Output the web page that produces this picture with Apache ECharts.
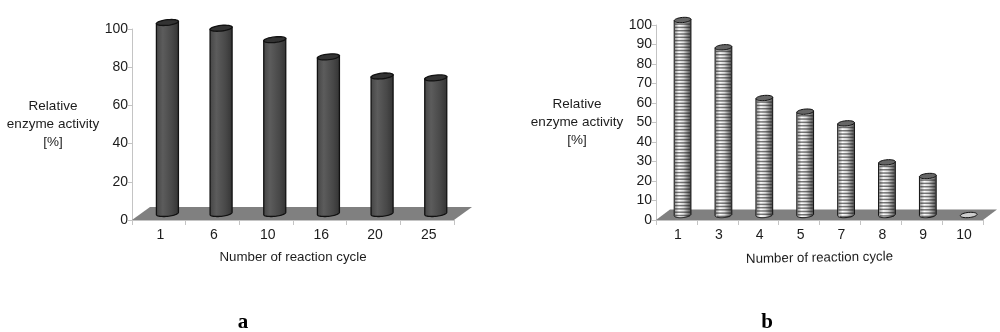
<!DOCTYPE html>
<html><head><meta charset="utf-8">
<style>html,body{margin:0;padding:0;background:#fff}#c{width:1000px;height:332px;filter:blur(0.4px)}</style>
<script src="https://cdn.jsdelivr.net/npm/echarts@6/dist/echarts.min.js"></script>
</head><body><div id="c"></div>
<script>
const categoriesA = ['1','6','10','16','20','25'];
const valuesA = [100, 97, 91, 82, 72, 71];
const categoriesB = ['1','3','4','5','7','8','9','10'];
const valuesB = [100, 86, 60, 53, 47, 27, 20, 0];
const yIntervalA = 20;
const yIntervalB = 10;
const xTitle = 'Number of reaction cycle';
const yTitle = 'Relative\nenzyme activity\n[%]';

const FONT = '"Liberation Sans", Arial, sans-serif';
const chart = echarts.init(document.getElementById('c'), null, {renderer:'canvas'});

function ellipsePts(cx, cy, rx, ry, tilt, a0, a1, n){
  const p=[];
  for(let i=0;i<=n;i++){
    const t=a0+(a1-a0)*i/n;
    p.push([cx+rx*Math.cos(t), cy+ry*Math.sin(t)-tilt*Math.cos(t)]);
  }
  return p;
}
function floorSeries(ax, depthX, depthY){
  return {type:'custom',xAxisIndex:ax,yAxisIndex:ax,z:1,silent:true,clip:false,
    data:[[0,0]],
    renderItem(params){
      const s=params.coordSys, b=s.y+s.height, r=s.x+s.width;
      return {type:'polygon',shape:{points:[[s.x,b],[r,b],[r+depthX,b-depthY],[s.x+depthX,b-depthY]]},style:{fill:'#808080'}};
    }};
}
function cylSeries(ax, values, o){
  return {type:'custom',xAxisIndex:ax,yAxisIndex:ax,z:3,silent:true,clip:false,
    data:values.map((v,i)=>[i,v]),
    renderItem(params,api){
      const p=api.coord([api.value(0),api.value(1)]);
      const base=api.coord([api.value(0),0]);
      const band=api.size([1,0])[0];
      const cx=p[0]+band*o.dx, rx=band*o.w/2;
      const topY=p[1]-o.dy, botY=base[1]-o.dy;
      const kids=[];
      if(botY-topY>1){
        const pts=[[cx-rx,topY+o.tilt],[cx+rx,topY-o.tilt]].concat(
          ellipsePts(cx,botY,rx,o.ry,o.tilt,0,Math.PI,24));
        kids.push({type:'polygon',shape:{points:pts},
          style:{fill:{type:'linear',x:0,y:0,x2:1,y2:0,colorStops:o.body},stroke:'#111',lineWidth:o.lw}});
        if(o.stripe){
          for(let y=topY+o.ry+1.5;y<botY+o.ry-0.4;y+=o.stripe){
            const k=y>botY?Math.sqrt(Math.max(0,1-Math.pow((y-botY)/o.ry,2))):1;
            const hw=(rx-0.8)*k;
            kids.push({type:'line',shape:{x1:cx-hw,y1:y,x2:cx+hw,y2:y},
              style:{stroke:'rgba(30,30,30,0.6)',lineWidth:1.5}});
          }
        }
      }
      kids.push({type:'polygon',shape:{points:ellipsePts(cx,topY,rx,o.ry,o.tilt,0,Math.PI*2,32)},
        style:{fill:botY-topY>1?o.top:o.flat,stroke:'#111',lineWidth:o.lw}});
      return {type:'group',children:kids};
    }};
}
const axisGrey='#c4c4c4';
function xAxis(i,cats,rot,gap){
  return {type:'category',gridIndex:i,data:cats,boundaryGap:true,
    axisLine:{show:true,lineStyle:{color:axisGrey}},
    axisTick:{show:true,length:5,lineStyle:{color:axisGrey},alignWithLabel:false},
    axisLabel:{color:'#1c1c1c',fontFamily:FONT,fontSize:14,margin:8,padding:[0,0,0,3],interval:0},
    name:xTitle,nameLocation:'middle',nameGap:gap,nameRotate:rot,
    nameTextStyle:{color:'#1c1c1c',fontFamily:FONT,fontSize:13.3,align:'center',verticalAlign:'middle'}};
}
function yAxis(i,iv,gap){
  return {type:'value',gridIndex:i,min:0,max:100,interval:iv,
    splitLine:{show:false},
    axisLine:{show:true,lineStyle:{color:axisGrey}},
    axisTick:{show:true,length:4,lineStyle:{color:axisGrey}},
    axisLabel:{color:'#1c1c1c',fontFamily:FONT,fontSize:14,margin:4},
    name:yTitle,nameLocation:'middle',nameGap:gap,nameRotate:0,
    nameTextStyle:{color:'#1c1c1c',fontFamily:FONT,fontSize:13.5,lineHeight:18,align:'center',verticalAlign:'middle',padding:[5,0,0,0]}};
}
chart.setOption({
  animation:false,
  backgroundColor:'#fff',
  title:[
    {text:'a',left:238,top:307,textAlign:'center',textStyle:{fontFamily:'"Liberation Serif",serif',fontWeight:'bold',fontSize:21,color:'#000'}},
    {text:'b',left:762,top:307,textAlign:'center',textStyle:{fontFamily:'"Liberation Serif",serif',fontWeight:'bold',fontSize:21,color:'#000'}}
  ],
  grid:[
    {left:132,top:29,width:322,height:191},
    {left:656,top:25,width:327,height:195}
  ],
  xAxis:[xAxis(0,categoriesA,0,37),xAxis(1,categoriesB,1,38)],
  yAxis:[yAxis(0,yIntervalA,79),yAxis(1,yIntervalB,79)],
  series:[
    floorSeries(0,18,13),
    floorSeries(1,14,10.5),
    cylSeries(0,valuesA,{dx:0.16,dy:6.5,w:0.41,ry:2.8,tilt:1.1,lw:1.3,top:'#333',flat:'#333',
      body:[{offset:0,color:'#444'},{offset:0.3,color:'#5c5c5c'},{offset:0.7,color:'#484848'},{offset:1,color:'#333'}]}),
    cylSeries(1,valuesB,{dx:0.15,dy:5,w:0.41,ry:2.6,tilt:0.7,lw:1,top:'#666',flat:'#ccc',stripe:3.3,
      body:[{offset:0,color:'#888'},{offset:0.3,color:'#fff'},{offset:0.55,color:'#ddd'},{offset:1,color:'#444'}]})
  ]
});
</script></body></html>
